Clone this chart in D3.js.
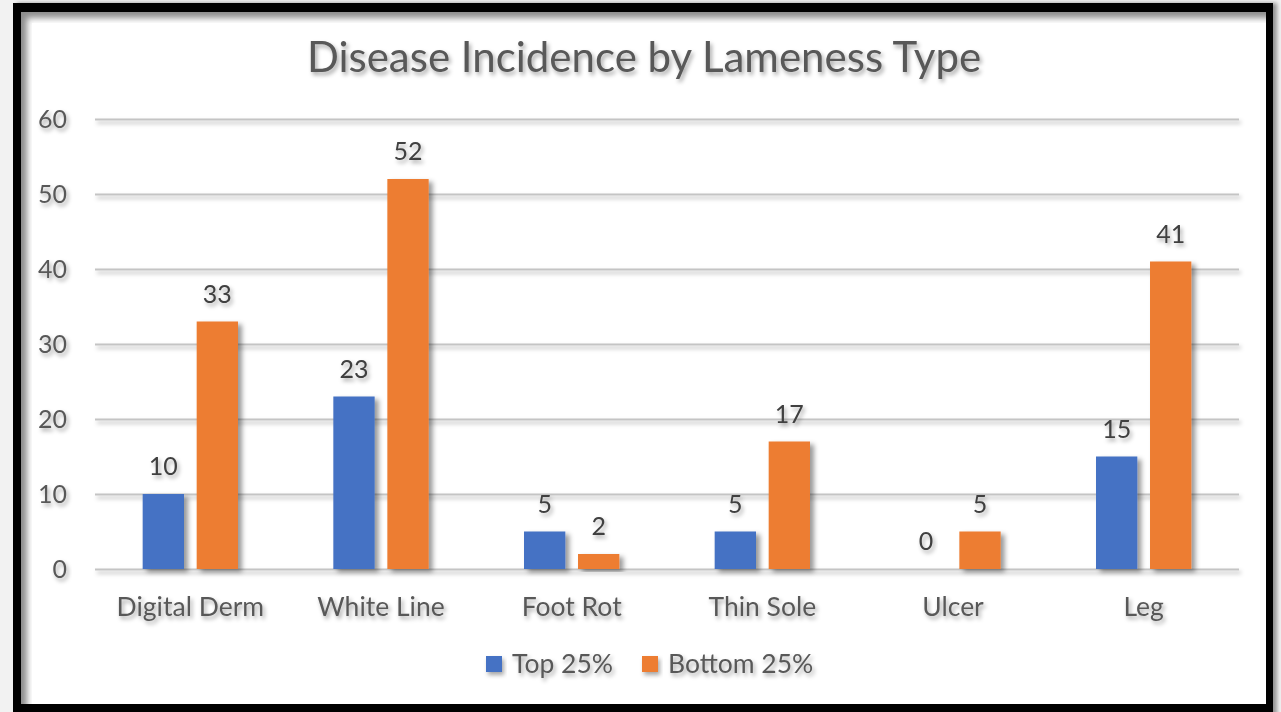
<!DOCTYPE html>
<html>
<head>
<meta charset="utf-8">
<script src="https://cdn.jsdelivr.net/npm/d3@7"></script>
<style>
  body { margin: 0; background: #f2f2f2; }
  svg { display: block; }
  text { font-family: Lato, "Open Sans", sans-serif; }
</style>
</head>
<body>
<div id="chart"></div>
<script>
// chart data
var categories = ["Digital Derm", "White Line", "Foot Rot", "Thin Sole", "Ulcer", "Leg"]
var seriesNames = ["Top 25%", "Bottom 25%"]
var top25 = [10, 23, 5, 5, 0, 15]
var bottom25 = [33, 52, 2, 17, 5, 41]
var yTicks = [0, 10, 20, 30, 40, 50, 60]
var colors = ["#4472C4", "#ED7D31"]

var W = 1281, H = 712
var margin = {top: 119, right: 42, bottom: 143, left: 95}
var width = 1239 - margin.left,
  height = 569 - margin.top

var svg = d3.select("#chart").append("svg")
  .attr("width", W)
  .attr("height", H)

var defs = svg.append("defs")
// soft shadow used on text and legend keys
var sh = defs.append("filter").attr("id", "shadow")
  .attr("x", "-20%").attr("y", "-40%").attr("width", "150%").attr("height", "200%")
sh.append("feDropShadow").attr("dx", 2).attr("dy", 3).attr("stdDeviation", 2)
  .attr("flood-color", "#000").attr("flood-opacity", 0.35)
// gridlines have no height, so their filter needs a user space region
var lineSh = defs.append("filter").attr("id", "lineShadow")
  .attr("filterUnits", "userSpaceOnUse")
  .attr("x", -10).attr("y", -10).attr("width", width + 20).attr("height", height + 20)
lineSh.append("feDropShadow").attr("dx", 2).attr("dy", 3).attr("stdDeviation", 2)
  .attr("flood-color", "#000").attr("flood-opacity", 0.3)
var barSh = defs.append("filter").attr("id", "barShadow")
  .attr("x", "-30%").attr("y", "-10%").attr("width", "170%").attr("height", "130%")
barSh.append("feDropShadow").attr("dx", 4).attr("dy", 3).attr("stdDeviation", 2.5)
  .attr("flood-color", "#000").attr("flood-opacity", 0.4)
var blur = defs.append("filter").attr("id", "blur")
blur.append("feGaussianBlur").attr("stdDeviation", 3)
var frameSh = defs.append("filter").attr("id", "frameShadow")
  .attr("x", "-5%").attr("y", "-5%").attr("width", "110%").attr("height", "110%")
frameSh.append("feDropShadow").attr("dx", 4).attr("dy", 0).attr("stdDeviation", 2)
  .attr("flood-color", "#000").attr("flood-opacity", 0.4)
defs.append("clipPath").attr("id", "inner")
  .append("rect").attr("x", 21).attr("y", 12).attr("width", 1245).attr("height", 692)

// frame
svg.append("rect").attr("x", 0).attr("y", 0).attr("width", W).attr("height", H).attr("fill", "#f2f2f2")
svg.append("rect").attr("x", 13).attr("y", 3).attr("width", 1260).attr("height", 715)
  .attr("fill", "#000").attr("filter", "url(#frameShadow)")
var inner = svg.append("g").attr("clip-path", "url(#inner)")
inner.append("rect").attr("x", 21).attr("y", 12).attr("width", 1245).attr("height", 692).attr("fill", "#8c8c8c")
inner.append("rect").attr("x", 27).attr("y", 18).attr("width", 1260).attr("height", 700)
  .attr("fill", "#fff").attr("filter", "url(#blur)")
inner.append("rect").attr("x", 32).attr("y", 23).attr("width", 1240).attr("height", 690).attr("fill", "#fff")

// title
svg.append("text")
  .attr("x", 644)
  .attr("y", 72)
  .attr("text-anchor", "middle")
  .attr("font-size", 42)
  .attr("fill", "#595959")
  .attr("filter", "url(#shadow)")
  .text("Disease Incidence by Lameness Type")

var g = svg.append("g")
  .attr("transform", "translate(" + margin.left + "," + margin.top + ")")

var x0 = d3.scaleBand().domain(categories).range([0, width])
  .paddingInner(0.5).paddingOuter(0.25)
var x1 = d3.scaleBand().domain(seriesNames).range([0, x0.bandwidth()])
  .paddingInner(0.235)
var y = d3.scaleLinear().domain([0, 60]).range([height, 0])

// y axis + gridlines
var yAxis = g.append("g")
  .call(d3.axisLeft(y).tickValues(yTicks).tickSize(-width).tickPadding(28))
yAxis.select(".domain").remove()
yAxis.selectAll(".tick line")
  .attr("stroke", "#c4c4c4").attr("stroke-width", 2)
  .attr("filter", "url(#lineShadow)")
yAxis.selectAll(".tick text")
  .attr("font-size", 25).attr("fill", "#595959")
  .attr("font-family", "Lato, sans-serif")
  .attr("filter", "url(#shadow)")

// x axis labels
var xAxis = g.append("g")
  .attr("transform", "translate(0," + height + ")")
  .call(d3.axisBottom(x0).tickSize(0))
xAxis.select(".domain").remove()
xAxis.selectAll(".tick text")
  .attr("y", 47).attr("dy", null)
  .attr("font-size", 26.5).attr("fill", "#595959")
  .attr("font-family", "Lato, sans-serif")
  .attr("filter", "url(#shadow)")

// bars
var rows = categories.map(function(c, i) {
  return {cat: c, vals: [top25[i], bottom25[i]]}
})
var groups = g.selectAll(".grp").data(rows).enter().append("g")
  .attr("transform", function(d) { return "translate(" + x0(d.cat) + ",0)" })

groups.selectAll("rect")
  .data(function(d) { return d.vals.map(function(v, k) { return {s: seriesNames[k], v: v, k: k} }) })
  .enter().append("rect")
  .filter(function(d) { return d.v > 0 })
  .attr("x", function(d) { return x1(d.s) })
  .attr("y", function(d) { return y(d.v) })
  .attr("width", x1.bandwidth())
  .attr("height", function(d) { return height - y(d.v) })
  .attr("fill", function(d) { return colors[d.k] })
  .attr("filter", "url(#barShadow)")

groups.selectAll(".lbl")
  .data(function(d) { return d.vals.map(function(v, k) { return {s: seriesNames[k], v: v} }) })
  .enter().append("text")
  .attr("class", "lbl")
  .attr("x", function(d) { return x1(d.s) + x1.bandwidth() / 2 })
  .attr("y", function(d) { return y(d.v) - 19 })
  .attr("text-anchor", "middle")
  .attr("font-size", 25)
  .attr("fill", "#404040")
  .attr("filter", "url(#shadow)")
  .text(function(d) { return d.v })

// legend
var legend = svg.append("g")
var legX = [486, 642]
seriesNames.forEach(function(s, k) {
  legend.append("rect")
    .attr("x", legX[k]).attr("y", 656)
    .attr("width", 16).attr("height", 16)
    .attr("fill", colors[k])
    .attr("filter", "url(#shadow)")
  legend.append("text")
    .attr("x", legX[k] + 26).attr("y", 673)
    .attr("font-size", 26.5).attr("fill", "#595959")
    .attr("filter", "url(#shadow)")
    .text(s)
})
</script>
</body>
</html>
